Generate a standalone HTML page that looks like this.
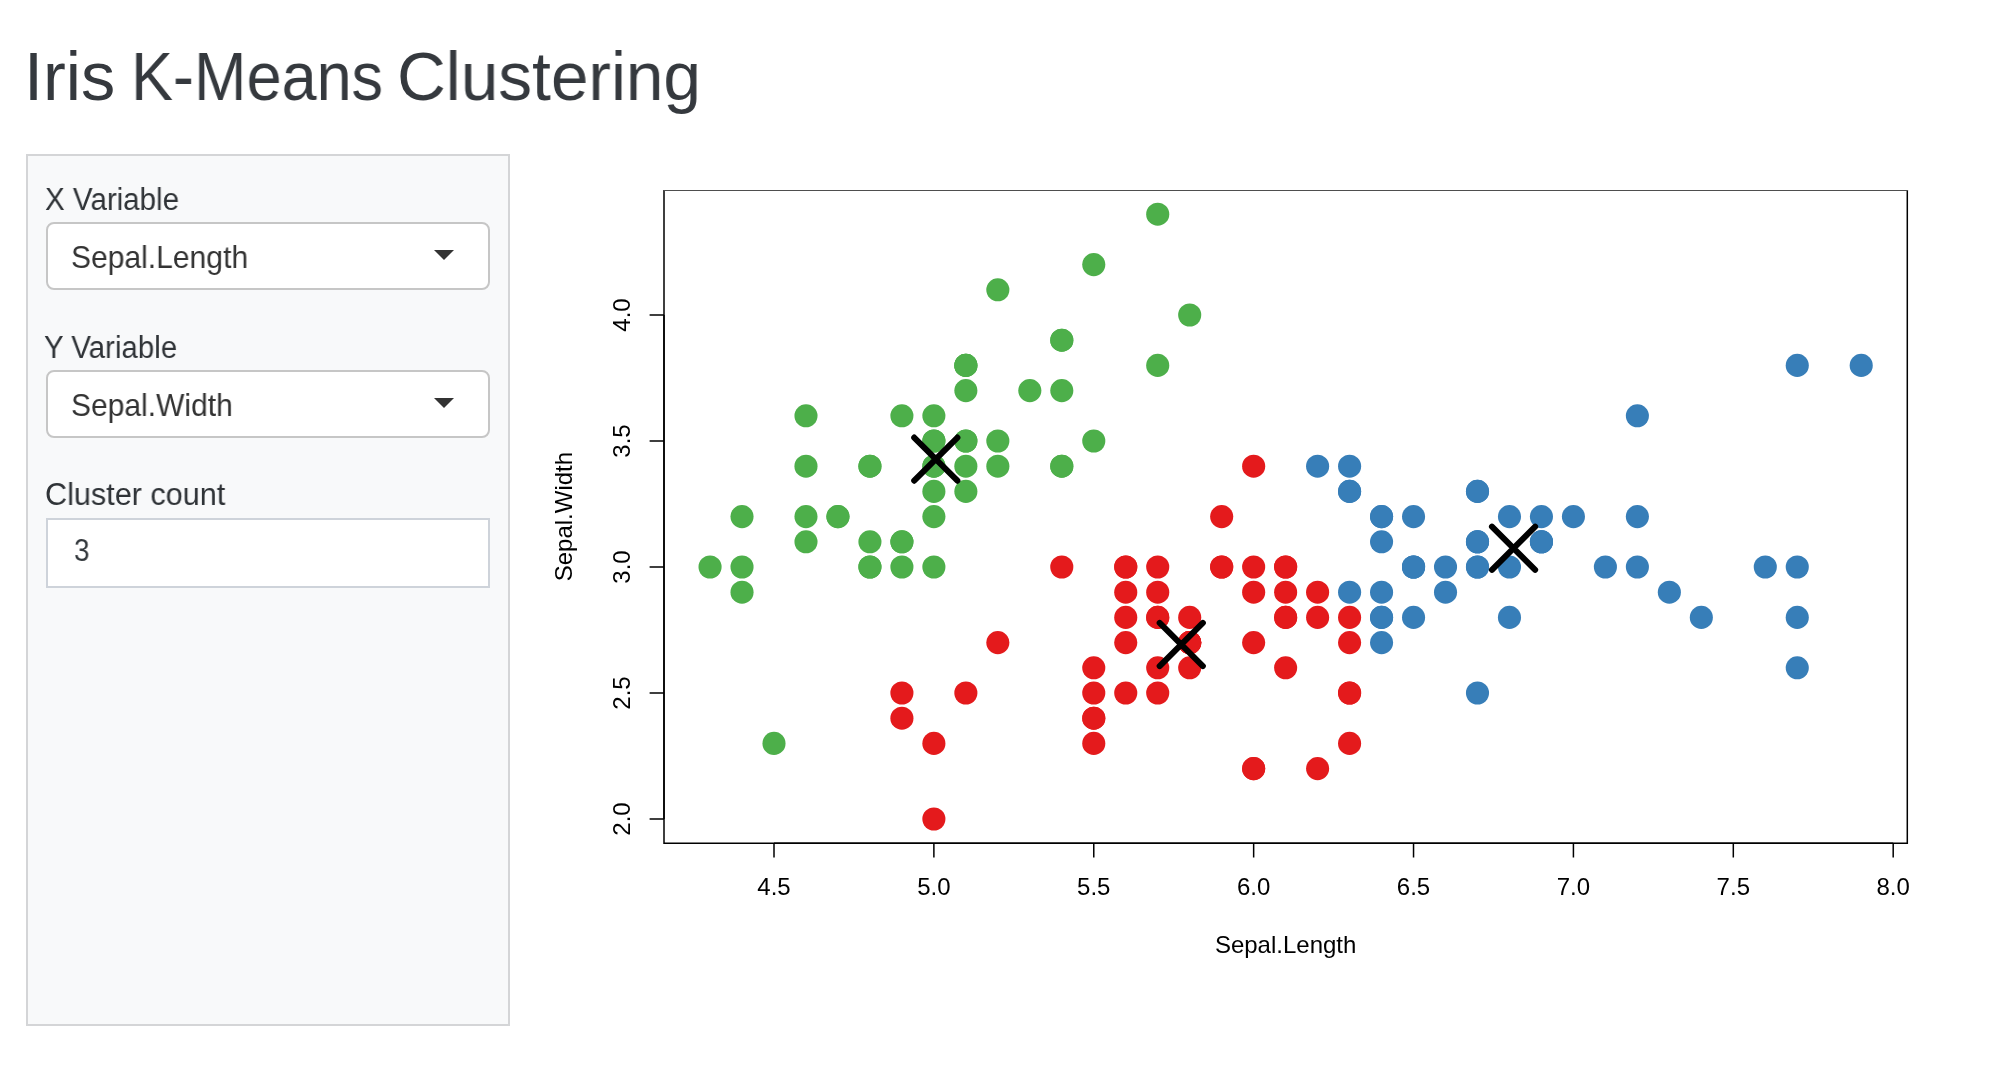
<!DOCTYPE html>
<html><head><meta charset="utf-8"><title>Iris K-Means Clustering</title>
<style>
html,body{margin:0;padding:0;background:#fff;}
body{width:1996px;height:1084px;position:relative;overflow:hidden;font-family:"Liberation Sans",sans-serif;color:#33383c;}
.plot{position:absolute;left:0;top:0;will-change:transform;}
.t{position:absolute;line-height:1;white-space:pre;transform-origin:0 0;will-change:transform;font-family:"Liberation Sans",sans-serif;z-index:2;}
.well{position:absolute;left:26px;top:154px;width:480px;height:868px;border:2px solid #d4d5d7;background:#f8f9fa;}
.sel{position:absolute;left:46px;width:440px;height:64px;border:2px solid #c6c6c6;border-radius:8px;background:#fff;}
.sel i{position:absolute;left:386px;top:26px;width:0;height:0;border-style:solid;border-width:10px 10px 0 10px;border-color:#333 transparent transparent transparent;}
.num{position:absolute;left:46px;top:518px;width:440px;height:66px;border:2px solid #ced3da;background:#fff;}
</style></head><body>
<div class="well"></div>
<div class="sel" style="top:222px"><i></i></div>
<div class="sel" style="top:370px"><i></i></div>
<div class="num"></div>
<span class="t" style="left:24.46px;top:42.44px;font-size:68px;color:#35393e;transform:scaleX(1.0073)">Iris</span><span class="t" style="left:130.54px;top:42.44px;font-size:68px;color:#35393e;transform:scaleX(0.9266)">K-Means</span><span class="t" style="left:396.82px;top:42.44px;font-size:68px;color:#35393e;transform:scaleX(0.9930)">Clustering</span><span class="t" style="left:44.65px;top:183.76px;font-size:31px;color:#2f3337;transform:scaleX(0.9529)">X Variable</span><span class="t" style="left:44.25px;top:331.76px;font-size:31px;color:#2f3337;transform:scaleX(0.9500)">Y Variable</span><span class="t" style="left:44.53px;top:479.36px;font-size:31px;color:#2f3337;transform:scaleX(0.9872)">Cluster count</span><span class="t" style="left:71.29px;top:242.14px;font-size:31.5px;color:#333333;transform:scaleX(0.9538)">Sepal.Length</span><span class="t" style="left:71.29px;top:390.14px;font-size:31.5px;color:#333333;transform:scaleX(0.9530)">Sepal.Width</span><span class="t" style="left:73.70px;top:534.76px;font-size:31px;color:#33383c;transform:scaleX(0.9000)">3</span>
<svg class="plot" width="1996" height="1084" viewBox="0 0 1996 1084">
<g><circle cx="965.86" cy="441.00" r="11.55" fill="#4DAF4A"/><circle cx="901.91" cy="567.00" r="11.55" fill="#4DAF4A"/><circle cx="837.95" cy="516.60" r="11.55" fill="#4DAF4A"/><circle cx="805.98" cy="541.80" r="11.55" fill="#4DAF4A"/><circle cx="933.88" cy="415.80" r="11.55" fill="#4DAF4A"/><circle cx="1061.79" cy="340.20" r="11.55" fill="#4DAF4A"/><circle cx="805.98" cy="466.20" r="11.55" fill="#4DAF4A"/><circle cx="933.88" cy="466.20" r="11.55" fill="#4DAF4A"/><circle cx="742.02" cy="592.20" r="11.55" fill="#4DAF4A"/><circle cx="901.91" cy="541.80" r="11.55" fill="#4DAF4A"/><circle cx="1061.79" cy="390.60" r="11.55" fill="#4DAF4A"/><circle cx="869.93" cy="466.20" r="11.55" fill="#4DAF4A"/><circle cx="869.93" cy="567.00" r="11.55" fill="#4DAF4A"/><circle cx="710.05" cy="567.00" r="11.55" fill="#4DAF4A"/><circle cx="1189.70" cy="315.00" r="11.55" fill="#4DAF4A"/><circle cx="1157.72" cy="214.20" r="11.55" fill="#4DAF4A"/><circle cx="1061.79" cy="340.20" r="11.55" fill="#4DAF4A"/><circle cx="965.86" cy="441.00" r="11.55" fill="#4DAF4A"/><circle cx="1157.72" cy="365.40" r="11.55" fill="#4DAF4A"/><circle cx="965.86" cy="365.40" r="11.55" fill="#4DAF4A"/><circle cx="1061.79" cy="466.20" r="11.55" fill="#4DAF4A"/><circle cx="965.86" cy="390.60" r="11.55" fill="#4DAF4A"/><circle cx="805.98" cy="415.80" r="11.55" fill="#4DAF4A"/><circle cx="965.86" cy="491.40" r="11.55" fill="#4DAF4A"/><circle cx="869.93" cy="466.20" r="11.55" fill="#4DAF4A"/><circle cx="933.88" cy="567.00" r="11.55" fill="#4DAF4A"/><circle cx="933.88" cy="466.20" r="11.55" fill="#4DAF4A"/><circle cx="997.84" cy="441.00" r="11.55" fill="#4DAF4A"/><circle cx="997.84" cy="466.20" r="11.55" fill="#4DAF4A"/><circle cx="837.95" cy="516.60" r="11.55" fill="#4DAF4A"/><circle cx="869.93" cy="541.80" r="11.55" fill="#4DAF4A"/><circle cx="1061.79" cy="466.20" r="11.55" fill="#4DAF4A"/><circle cx="997.84" cy="289.80" r="11.55" fill="#4DAF4A"/><circle cx="1093.77" cy="264.60" r="11.55" fill="#4DAF4A"/><circle cx="901.91" cy="541.80" r="11.55" fill="#4DAF4A"/><circle cx="933.88" cy="516.60" r="11.55" fill="#4DAF4A"/><circle cx="1093.77" cy="441.00" r="11.55" fill="#4DAF4A"/><circle cx="901.91" cy="415.80" r="11.55" fill="#4DAF4A"/><circle cx="742.02" cy="567.00" r="11.55" fill="#4DAF4A"/><circle cx="965.86" cy="466.20" r="11.55" fill="#4DAF4A"/><circle cx="933.88" cy="441.00" r="11.55" fill="#4DAF4A"/><circle cx="774.00" cy="743.40" r="11.55" fill="#4DAF4A"/><circle cx="742.02" cy="516.60" r="11.55" fill="#4DAF4A"/><circle cx="933.88" cy="441.00" r="11.55" fill="#4DAF4A"/><circle cx="965.86" cy="365.40" r="11.55" fill="#4DAF4A"/><circle cx="869.93" cy="567.00" r="11.55" fill="#4DAF4A"/><circle cx="965.86" cy="365.40" r="11.55" fill="#4DAF4A"/><circle cx="805.98" cy="516.60" r="11.55" fill="#4DAF4A"/><circle cx="1029.82" cy="390.60" r="11.55" fill="#4DAF4A"/><circle cx="933.88" cy="491.40" r="11.55" fill="#4DAF4A"/><circle cx="1573.42" cy="516.60" r="11.55" fill="#377EB8"/><circle cx="1381.56" cy="516.60" r="11.55" fill="#377EB8"/><circle cx="1541.45" cy="541.80" r="11.55" fill="#377EB8"/><circle cx="1093.77" cy="743.40" r="11.55" fill="#E41A1C"/><circle cx="1413.54" cy="617.40" r="11.55" fill="#377EB8"/><circle cx="1157.72" cy="617.40" r="11.55" fill="#E41A1C"/><circle cx="1349.59" cy="491.40" r="11.55" fill="#377EB8"/><circle cx="901.91" cy="718.20" r="11.55" fill="#E41A1C"/><circle cx="1445.52" cy="592.20" r="11.55" fill="#377EB8"/><circle cx="997.84" cy="642.60" r="11.55" fill="#E41A1C"/><circle cx="933.88" cy="819.00" r="11.55" fill="#E41A1C"/><circle cx="1221.68" cy="567.00" r="11.55" fill="#E41A1C"/><circle cx="1253.65" cy="768.60" r="11.55" fill="#E41A1C"/><circle cx="1285.63" cy="592.20" r="11.55" fill="#E41A1C"/><circle cx="1125.75" cy="592.20" r="11.55" fill="#E41A1C"/><circle cx="1477.49" cy="541.80" r="11.55" fill="#377EB8"/><circle cx="1125.75" cy="567.00" r="11.55" fill="#E41A1C"/><circle cx="1189.70" cy="642.60" r="11.55" fill="#E41A1C"/><circle cx="1317.61" cy="768.60" r="11.55" fill="#E41A1C"/><circle cx="1125.75" cy="693.00" r="11.55" fill="#E41A1C"/><circle cx="1221.68" cy="516.60" r="11.55" fill="#E41A1C"/><circle cx="1285.63" cy="617.40" r="11.55" fill="#E41A1C"/><circle cx="1349.59" cy="693.00" r="11.55" fill="#E41A1C"/><circle cx="1285.63" cy="617.40" r="11.55" fill="#E41A1C"/><circle cx="1381.56" cy="592.20" r="11.55" fill="#377EB8"/><circle cx="1445.52" cy="567.00" r="11.55" fill="#377EB8"/><circle cx="1509.47" cy="617.40" r="11.55" fill="#377EB8"/><circle cx="1477.49" cy="567.00" r="11.55" fill="#377EB8"/><circle cx="1253.65" cy="592.20" r="11.55" fill="#E41A1C"/><circle cx="1157.72" cy="667.80" r="11.55" fill="#E41A1C"/><circle cx="1093.77" cy="718.20" r="11.55" fill="#E41A1C"/><circle cx="1093.77" cy="718.20" r="11.55" fill="#E41A1C"/><circle cx="1189.70" cy="642.60" r="11.55" fill="#E41A1C"/><circle cx="1253.65" cy="642.60" r="11.55" fill="#E41A1C"/><circle cx="1061.79" cy="567.00" r="11.55" fill="#E41A1C"/><circle cx="1253.65" cy="466.20" r="11.55" fill="#E41A1C"/><circle cx="1477.49" cy="541.80" r="11.55" fill="#377EB8"/><circle cx="1349.59" cy="743.40" r="11.55" fill="#E41A1C"/><circle cx="1125.75" cy="567.00" r="11.55" fill="#E41A1C"/><circle cx="1093.77" cy="693.00" r="11.55" fill="#E41A1C"/><circle cx="1093.77" cy="667.80" r="11.55" fill="#E41A1C"/><circle cx="1285.63" cy="567.00" r="11.55" fill="#E41A1C"/><circle cx="1189.70" cy="667.80" r="11.55" fill="#E41A1C"/><circle cx="933.88" cy="743.40" r="11.55" fill="#E41A1C"/><circle cx="1125.75" cy="642.60" r="11.55" fill="#E41A1C"/><circle cx="1157.72" cy="567.00" r="11.55" fill="#E41A1C"/><circle cx="1157.72" cy="592.20" r="11.55" fill="#E41A1C"/><circle cx="1317.61" cy="592.20" r="11.55" fill="#E41A1C"/><circle cx="965.86" cy="693.00" r="11.55" fill="#E41A1C"/><circle cx="1157.72" cy="617.40" r="11.55" fill="#E41A1C"/><circle cx="1349.59" cy="491.40" r="11.55" fill="#377EB8"/><circle cx="1189.70" cy="642.60" r="11.55" fill="#E41A1C"/><circle cx="1605.40" cy="567.00" r="11.55" fill="#377EB8"/><circle cx="1349.59" cy="592.20" r="11.55" fill="#377EB8"/><circle cx="1413.54" cy="567.00" r="11.55" fill="#377EB8"/><circle cx="1765.29" cy="567.00" r="11.55" fill="#377EB8"/><circle cx="901.91" cy="693.00" r="11.55" fill="#E41A1C"/><circle cx="1669.36" cy="592.20" r="11.55" fill="#377EB8"/><circle cx="1477.49" cy="693.00" r="11.55" fill="#377EB8"/><circle cx="1637.38" cy="415.80" r="11.55" fill="#377EB8"/><circle cx="1413.54" cy="516.60" r="11.55" fill="#377EB8"/><circle cx="1381.56" cy="642.60" r="11.55" fill="#377EB8"/><circle cx="1509.47" cy="567.00" r="11.55" fill="#377EB8"/><circle cx="1157.72" cy="693.00" r="11.55" fill="#E41A1C"/><circle cx="1189.70" cy="617.40" r="11.55" fill="#E41A1C"/><circle cx="1381.56" cy="516.60" r="11.55" fill="#377EB8"/><circle cx="1413.54" cy="567.00" r="11.55" fill="#377EB8"/><circle cx="1797.26" cy="365.40" r="11.55" fill="#377EB8"/><circle cx="1797.26" cy="667.80" r="11.55" fill="#377EB8"/><circle cx="1253.65" cy="768.60" r="11.55" fill="#E41A1C"/><circle cx="1541.45" cy="516.60" r="11.55" fill="#377EB8"/><circle cx="1125.75" cy="617.40" r="11.55" fill="#E41A1C"/><circle cx="1797.26" cy="617.40" r="11.55" fill="#377EB8"/><circle cx="1349.59" cy="642.60" r="11.55" fill="#E41A1C"/><circle cx="1477.49" cy="491.40" r="11.55" fill="#377EB8"/><circle cx="1637.38" cy="516.60" r="11.55" fill="#377EB8"/><circle cx="1317.61" cy="617.40" r="11.55" fill="#E41A1C"/><circle cx="1285.63" cy="567.00" r="11.55" fill="#E41A1C"/><circle cx="1381.56" cy="617.40" r="11.55" fill="#377EB8"/><circle cx="1637.38" cy="567.00" r="11.55" fill="#377EB8"/><circle cx="1701.33" cy="617.40" r="11.55" fill="#377EB8"/><circle cx="1861.22" cy="365.40" r="11.55" fill="#377EB8"/><circle cx="1381.56" cy="617.40" r="11.55" fill="#377EB8"/><circle cx="1349.59" cy="617.40" r="11.55" fill="#E41A1C"/><circle cx="1285.63" cy="667.80" r="11.55" fill="#E41A1C"/><circle cx="1797.26" cy="567.00" r="11.55" fill="#377EB8"/><circle cx="1349.59" cy="466.20" r="11.55" fill="#377EB8"/><circle cx="1381.56" cy="541.80" r="11.55" fill="#377EB8"/><circle cx="1253.65" cy="567.00" r="11.55" fill="#E41A1C"/><circle cx="1541.45" cy="541.80" r="11.55" fill="#377EB8"/><circle cx="1477.49" cy="541.80" r="11.55" fill="#377EB8"/><circle cx="1541.45" cy="541.80" r="11.55" fill="#377EB8"/><circle cx="1189.70" cy="642.60" r="11.55" fill="#E41A1C"/><circle cx="1509.47" cy="516.60" r="11.55" fill="#377EB8"/><circle cx="1477.49" cy="491.40" r="11.55" fill="#377EB8"/><circle cx="1477.49" cy="567.00" r="11.55" fill="#377EB8"/><circle cx="1349.59" cy="693.00" r="11.55" fill="#E41A1C"/><circle cx="1413.54" cy="567.00" r="11.55" fill="#377EB8"/><circle cx="1317.61" cy="466.20" r="11.55" fill="#377EB8"/><circle cx="1221.68" cy="567.00" r="11.55" fill="#E41A1C"/></g>
<g stroke="#000" stroke-width="6" stroke-linecap="round" fill="none"><path d="M914.20 437.54L957.40 480.74M914.20 480.74L957.40 437.54"/><path d="M1159.65 622.90L1202.85 666.10M1159.65 666.10L1202.85 622.90"/><path d="M1491.95 526.63L1535.15 569.83M1491.95 569.83L1535.15 526.63"/></g>
<path d="M664.0 190.0V843.2H1907.3V190.0" fill="none" stroke="#000" stroke-width="1.5"/>
<path d="M663.25 190.5H1908.05" stroke="#4e4e4e" stroke-width="1"/>
<g stroke="#000" stroke-width="1.5" fill="none"><path d="M774.00 843.2H1893.19M774.00 843.2v14.4M933.88 843.2v14.4M1093.77 843.2v14.4M1253.65 843.2v14.4M1413.54 843.2v14.4M1573.42 843.2v14.4M1733.31 843.2v14.4M1893.19 843.2v14.4"/><path d="M664.0 819.00V315.00M664.0 819.00h-14.4M664.0 693.00h-14.4M664.0 567.00h-14.4M664.0 441.00h-14.4M664.0 315.00h-14.4"/></g>
<g font-family="Liberation Sans" font-size="24" fill="#000"><text x="774.00" y="895.3" text-anchor="middle">4.5</text><text x="933.88" y="895.3" text-anchor="middle">5.0</text><text x="1093.77" y="895.3" text-anchor="middle">5.5</text><text x="1253.65" y="895.3" text-anchor="middle">6.0</text><text x="1413.54" y="895.3" text-anchor="middle">6.5</text><text x="1573.42" y="895.3" text-anchor="middle">7.0</text><text x="1733.31" y="895.3" text-anchor="middle">7.5</text><text x="1893.19" y="895.3" text-anchor="middle">8.0</text><text transform="translate(630.2 819.00) rotate(-90)" text-anchor="middle">2.0</text><text transform="translate(630.2 693.00) rotate(-90)" text-anchor="middle">2.5</text><text transform="translate(630.2 567.00) rotate(-90)" text-anchor="middle">3.0</text><text transform="translate(630.2 441.00) rotate(-90)" text-anchor="middle">3.5</text><text transform="translate(630.2 315.00) rotate(-90)" text-anchor="middle">4.0</text><text x="1285.65" y="952.8" text-anchor="middle">Sepal.Length</text><text transform="translate(571.8 516.60) rotate(-90)" text-anchor="middle">Sepal.Width</text></g>
</svg>
</body></html>
